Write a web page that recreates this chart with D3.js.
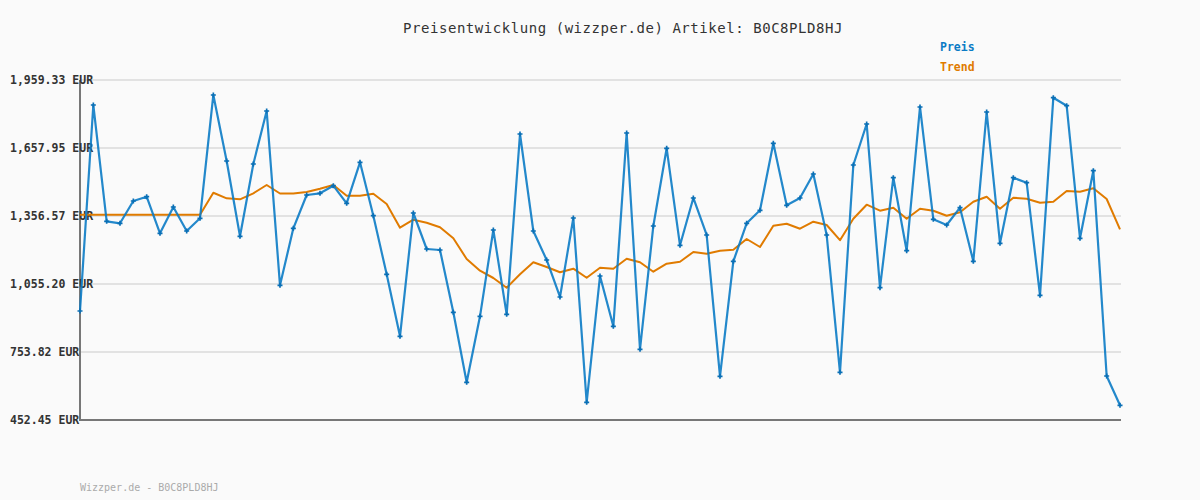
<!DOCTYPE html>
<html>
<head>
<meta charset="utf-8">
<script src="https://cdn.jsdelivr.net/npm/d3@7"></script>
<style>
  html, body { margin: 0; padding: 0; background: #fafafa; }
  svg { display: block; }
</style>
</head>
<body>
<svg id="chart" width="1200" height="500"></svg>
<script>
const title = "Preisentwicklung (wizzper.de) Artikel: B0C8PLD8HJ";
const footer = "Wizzper.de - B0C8PLD8HJ";
const seriesNames = ["Preis", "Trend"];
const yTicks = [452.45, 753.82, 1055.20, 1356.57, 1657.95, 1959.33];

const price = [935.5, 1848.5, 1333.1, 1324.2, 1423.1, 1442.1, 1279.9, 1396.5, 1290.1, 1346.4,
  1892.9, 1600.3, 1266.6, 1587.0, 1822.0, 1049.4, 1302.1, 1449.6, 1457.2, 1490.9,
  1412.9, 1594.6, 1357.9, 1098.2, 823.4, 1369.9, 1210.3, 1205.9, 929.8, 619.5,
  912.0, 1294.5, 920.9, 1720.0, 1290.1, 1161.6, 997.6, 1347.7, 530.9, 1090.7,
  867.7, 1724.4, 765.8, 1312.3, 1656.6, 1226.7, 1436.4, 1272.4, 646.1, 1155.8,
  1324.2, 1381.8, 1678.8, 1404.0, 1436.4, 1542.7, 1272.4, 663.9, 1582.6, 1764.3,
  1038.8, 1526.3, 1202.8, 1839.7, 1342.0, 1316.7, 1393.4, 1155.8, 1817.5, 1235.6,
  1526.3, 1504.2, 1005.1, 1880.9, 1845.4, 1257.7, 1557.4, 647.5, 517.6];

const trend = [1362.3, 1362.3, 1362.3, 1362.3, 1362.3, 1362.3, 1362.3, 1362.3, 1362.3, 1362.3,
  1459.8, 1435.0, 1430.6, 1457.2, 1494.0, 1456.3, 1456.3, 1462.9, 1477.6, 1494.0,
  1446.5, 1446.5, 1455.4, 1409.8, 1304.7, 1340.2, 1326.9, 1306.5, 1257.7, 1166.0,
  1114.2, 1081.8, 1038.8, 1098.2, 1151.4, 1130.5, 1107.1, 1123.0, 1083.1, 1127.5,
  1123.0, 1167.3, 1151.4, 1109.7, 1145.2, 1154.0, 1197.0, 1189.5, 1202.8, 1207.2,
  1254.6, 1219.2, 1313.6, 1322.5, 1300.3, 1331.3, 1316.7, 1249.3, 1344.6, 1406.7,
  1380.1, 1393.4, 1344.6, 1388.9, 1380.1, 1357.9, 1373.0, 1419.9, 1442.1, 1388.9,
  1437.7, 1433.2, 1415.5, 1419.9, 1467.4, 1464.3, 1479.3, 1431.9, 1297.6];

const colors = { price: "#0b7bc5", trend: "#e07b00" };

(function () {
  const svg = d3.select("#chart");
  const W = 1200, H = 500;
  const mLeft = 80, mRight = 1120, mTop = 80, mBottom = 420;

  svg.append("rect").attr("width", W).attr("height", H).attr("fill", "#fafafa");

  const x = d3.scaleLinear().domain([0, price.length - 1]).range([mLeft, mRight]);
  const y = d3.scaleLinear().domain([yTicks[0], yTicks[yTicks.length - 1]]).range([mBottom, mTop]);

  const mono = "'DejaVu Sans Mono', 'Liberation Mono', monospace";

  // grid
  svg.append("g").selectAll("line").data(yTicks.slice(1)).join("line")
    .attr("x1", mLeft).attr("x2", mRight + 1)
    .attr("y1", d => y(d)).attr("y2", d => y(d))
    .attr("stroke", "#e2e2e2").attr("stroke-width", 2);

  // axes lines
  svg.append("line").attr("x1", mLeft).attr("x2", mLeft).attr("y1", mTop).attr("y2", mBottom + 1)
    .attr("stroke", "#777").attr("stroke-width", 2);
  svg.append("line").attr("x1", mLeft - 1).attr("x2", mRight + 1).attr("y1", mBottom).attr("y2", mBottom)
    .attr("stroke", "#777").attr("stroke-width", 2);

  // y labels
  const fmt = d3.format(",.2f");
  svg.append("g").selectAll("text").data(yTicks).join("text")
    .attr("x", 10).attr("y", d => y(d)).attr("dy", "0.35em")
    .attr("font-family", mono).attr("font-size", "11.5px").attr("font-weight", "bold")
    .attr("fill", "#333")
    .text(d => fmt(d) + " EUR");

  // lines
  const line = d3.line().x((d, i) => x(i)).y(d => y(d));
  svg.append("path").datum(trend).attr("d", line)
    .attr("fill", "none").attr("stroke", colors.trend).attr("stroke-width", 2)
    .attr("stroke-linejoin", "round");
  svg.append("path").datum(price).attr("d", line)
    .attr("fill", "none").attr("stroke", colors.price).attr("stroke-width", 2.2)
    .attr("stroke-linejoin", "round").attr("opacity", 0.9);

  // markers
  const sym = d3.symbol().type(d3.symbolCross).size(14);
  svg.append("g").selectAll("path").data(price).join("path")
    .attr("transform", (d, i) => `translate(${x(i)},${y(d)})`)
    .attr("d", sym).attr("fill", "#0a6fb5");

  // title
  svg.append("text").attr("x", 623).attr("y", 28).attr("dy", "0.35em")
    .attr("text-anchor", "middle").attr("font-family", mono).attr("font-size", "14px")
    .attr("letter-spacing", "0.55px").attr("fill", "#333").text(title);

  // legend
  svg.append("g").selectAll("text").data(seriesNames).join("text")
    .attr("x", 940).attr("y", (d, i) => 47 + i * 20).attr("dy", "0.35em")
    .attr("font-family", mono).attr("font-size", "11.5px").attr("font-weight", "bold")
    .attr("fill", (d, i) => i === 0 ? colors.price : colors.trend)
    .text(d => d);

  // footer
  svg.append("text").attr("x", 80).attr("y", 487).attr("dy", "0.35em")
    .attr("font-family", mono).attr("font-size", "10px").attr("fill", "#aaa")
    .text(footer);
})();
</script>
</body>
</html>
